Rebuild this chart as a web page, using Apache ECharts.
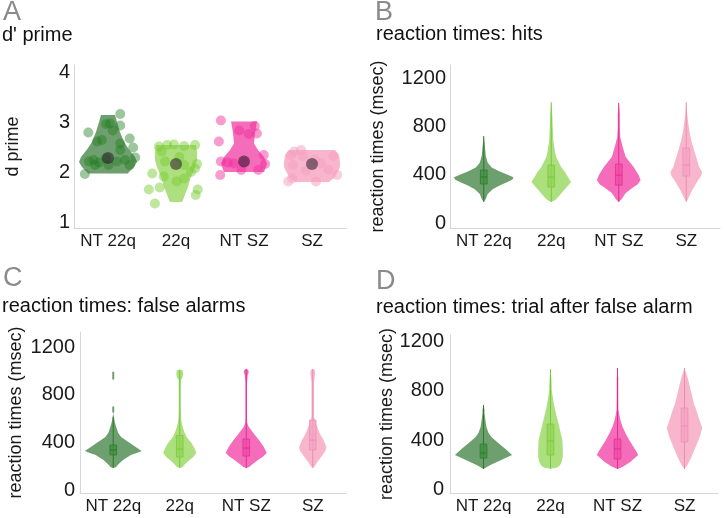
<!DOCTYPE html>
<html><head><meta charset="utf-8">
<script src="https://cdn.jsdelivr.net/npm/echarts@6/dist/echarts.min.js"></script>
<style>html,body{margin:0;padding:0;background:#fff}#c{width:727px;height:518px}</style>
</head><body><div id="c"></div>
<script>
// ---------- DATA ----------
const categories = ['NT 22q', '22q', 'NT SZ', 'SZ'];
const rtTicks = [0, 400, 800, 1200];
const dprimeTicks = [1, 2, 3, 4];

// Panel A: d' prime points [value, jitter (category units)]
const dprimeNT22q = [[3.16,0.18],[2.79,-0.29],[2.96,-0.03],[2.97,0.03],[2.93,0.18],[2.83,0.07],[2.64,-0.09],[2.61,-0.16],[2.67,0.32],[2.57,0.18],[2.44,0.18],[2.49,0.37],[2.27,-0.03],[2.24,-0.21],[2.21,-0.28],[2.19,-0.13],[2.24,0.25],[2.29,0.40],[2.14,0.32],[2.14,0.01],[1.96,-0.34],[2.14,-0.19],[2.21,0.13]];
const dprime22q = [[2.51,-0.25],[2.54,-0.13],[2.55,-0.03],[2.52,0.12],[2.54,0.28],[2.41,-0.21],[2.21,-0.16],[2.14,0.12],[2.07,0.28],[2.16,0.31],[1.97,-0.35],[1.91,-0.18],[1.87,0.12],[1.81,0.01],[1.65,-0.40],[1.69,-0.24],[1.65,0.32],[1.54,0.29],[1.37,-0.31],[2.30,0.05],[2.00,0.22]];
const dprimeNTSZ = [[3.03,-0.34],[2.61,-0.37],[2.83,-0.07],[2.76,0.07],[2.92,0.16],[2.77,0.19],[2.21,-0.34],[2.19,-0.24],[2.34,0.29],[2.16,0.31],[2.04,-0.04],[2.04,0.21],[1.94,-0.35],[2.17,-0.15],[2.20,0.00]];
const dprimeSZ = [[2.41,-0.26],[2.44,-0.16],[2.34,-0.31],[2.31,-0.13],[2.32,0.31],[2.14,-0.28],[2.17,0.13],[2.03,-0.09],[2.05,0.24],[1.94,0.37],[1.81,-0.35],[1.87,-0.29],[1.81,0.06],[2.25,0.05]];
const dprimeMeans = [2.28, 2.16, 2.21, 2.16];

// Violin density profiles: [value, relative density], top to bottom
const dprimeViolins = [
  [[3.14,7],[3.0,9],[2.8,12],[2.6,16],[2.45,21],[2.3,27],[2.2,29],[2.1,26],[2.0,21],[1.97,20]],
  [[2.54,20],[2.4,21],[2.24,21],[2.1,19],[2.0,17],[1.85,14],[1.7,12],[1.55,9],[1.44,7],[1.4,6]],
  [[3.01,13],[2.9,12],[2.78,11],[2.57,10],[2.44,14],[2.3,20],[2.17,23],[2.05,21],[2.0,20]],
  [[2.44,23],[2.34,27],[2.2,28],[2.1,28],[1.9,23],[1.8,17]]
];
const hitsViolins = [
  [[720,0],[650,1],[560,2],[500,4],[460,8],[430,15],[400,24],[380,30],[360,29],[340,24],[310,16],[280,9],[240,4],[200,2],[175,0]],
  [[1000,0],[900,1],[800,1.5],[690,2],[600,3.5],[546,5],[463,10],[420,14],[380,17],[340,20],[310,17],[273,13],[215,7],[190,4],[175,0]],
  [[995,0],[900,1],[800,1],[712,1.5],[662,3],[600,5],[546,7],[463,15],[397,20],[356,22],[320,19],[298,15],[248,7],[200,3],[175,0]],
  [[1000,0],[900,1],[828,2],[750,3.5],[687,5],[600,8],[546,10],[463,13],[422,16],[390,15],[356,12],[300,8],[273,6],[220,3],[175,0]]
];
const falseAlarmViolins = [
  [[995,0],[990,1],[930,1],[925,0],[705,0],[697,1],[655,1],[645,0],[613,0.7],[570,1.5],[529,3],[480,5],[445,8],[394,17],[360,23],[327,29],[310,24],[294,18],[252,10],[215,5],[193,3],[185,0]],
  [[1010,0],[1005,3],[975,3.5],[948,3],[923,1.2],[800,1],[700,1],[600,1.3],[562,2],[529,3],[480,5],[445,7],[394,12],[350,15],[310,17],[280,14],[252,10],[215,5],[193,3],[185,0]],
  [[1015,0],[1010,2],[985,2.5],[965,1.5],[900,0.8],[700,0.8],[600,0.8],[562,1],[530,2.5],[503,5],[460,9],[419,13],[360,18],[310,21],[280,17],[252,12],[215,6],[193,3],[185,0]],
  [[1015,0],[1010,2],[980,2.5],[948,2],[900,1.3],[700,1.3],[613,1.3],[562,3],[520,5],[478,7],[420,11],[361,14],[330,13],[294,10],[260,7],[227,4],[200,2],[185,0]]
];
const afterFAViolins = [
  [[685,0],[650,1],[620,1],[560,2],[507,3],[460,5],[425,8],[376,15],[330,22],[279,29],[260,24],[238,18],[198,7],[180,3],[165,0]],
  [[978,0],[900,1],[808,1.3],[740,2.5],[670,4],[600,6],[539,8],[470,10],[401,12],[330,12.5],[263,12.5],[214,11],[190,9],[175,6],[168,0]],
  [[987,0],[900,0.8],[750,0.8],[645,1],[600,2],[563,3],[510,5],[458,8],[400,12],[360,15],[310,19],[279,21],[250,17],[222,13],[181,5],[165,0]],
  [[987,0],[950,1.5],[913,3],[850,5],[783,7],[700,9.5],[645,12],[570,15],[498,18],[440,16],[376,13],[320,10],[263,7],[198,3],[165,0]]
];
// Boxes: [q1, median, q3]; whiskers: [min, max]
const hitsBoxes = [[323,381,439],[298,380,480],[314,397,488],[389,480,621]];
const hitsWhiskers = [[175,720],[175,1000],[175,995],[175,1000]];
const falseAlarmBoxes = [[294,336,378],[277,344,458],[285,352,428],[336,419,587]];
const falseAlarmWhiskers = [[185,613],[185,1010],[185,1015],[185,1015]];
const afterFABoxes = [[254,295,368],[279,393,531],[246,328,409],[385,515,661]];
const afterFAWhiskers = [[165,685],[168,978],[165,987],[165,987]];

// ---------- STYLE ----------
const FONT = 'Liberation Sans, Arial, sans-serif';
const violinColors = ['#6e9f6e', '#acdf7d', '#f56cbb', '#f8b6cd'];
const boxFill = ['#3f8f3f', '#92d656', '#ef4aa6', '#f4a3c2'];
const boxLine = ['#2b7a2b', '#79c83a', '#e02c92', '#ee8db1'];
const pointColors = ['rgba(35,125,35,0.55)', 'rgba(120,205,50,0.6)', 'rgba(240,45,155,0.6)', 'rgba(245,160,190,0.65)'];
const DENS_REF = 68;

function violinSeries(ax, profiles) {
  return {
    type: 'custom', xAxisIndex: ax, yAxisIndex: ax, silent: true, z: 1,
    encode: { x: 0, y: 1 },
    data: categories.map((c, i) => [i, profiles[i][0][0]]),
    renderItem(params, api) {
      const i = api.value(0);
      const prof = profiles[i];
      const band = api.size([1, 0])[0];
      const cx = api.coord([i, prof[0][0]])[0];
      const right = [], left = [];
      prof.forEach(([v, d]) => {
        const y = api.coord([i, v])[1];
        const h = d / DENS_REF * band;
        right.push([cx + h, y]); left.push([cx - h, y]);
      });
      return { type: 'polygon', shape: { points: right.concat(left.reverse()) }, style: { fill: violinColors[i] } };
    }
  };
}
function boxSeries(ax, boxes, whiskers) {
  return {
    type: 'custom', xAxisIndex: ax, yAxisIndex: ax, silent: true, z: 3,
    encode: { x: 0, y: 1 },
    data: categories.map((c, i) => [i, boxes[i][1]]),
    renderItem(params, api) {
      const i = api.value(0);
      const [q1, med, q3] = boxes[i];
      const band = api.size([1, 0])[0];
      const w = band * 0.1;
      const cx = api.coord([i, med])[0];
      const y1 = api.coord([i, q1])[1], y3 = api.coord([i, q3])[1], ym = api.coord([i, med])[1];
      const wMin = api.coord([i, whiskers[i][0]])[1], wMax = api.coord([i, whiskers[i][1]])[1];
      return { type: 'group', children: [
        { type: 'line', shape: { x1: cx, y1: wMin, x2: cx, y2: wMax }, style: { stroke: boxLine[i], lineWidth: 1 } },
        { type: 'rect', shape: { x: cx - w / 2, y: y3, width: w, height: y1 - y3 }, style: { fill: boxFill[i], stroke: boxLine[i], lineWidth: 1, opacity: 0.75 } },
        { type: 'line', shape: { x1: cx - w / 2, y1: ym, x2: cx + w / 2, y2: ym }, style: { stroke: boxLine[i], lineWidth: 1 } }
      ] };
    }
  };
}

const grids = [
  { left: 74, top: 65, width: 272, height: 163 },
  { left: 450, top: 65, width: 270, height: 163 },
  { left: 80, top: 332, width: 266, height: 161 },
  { left: 450, top: 335, width: 268, height: 158 }
];
const yRanges = [[0.88, 4.14], [-41, 1308], [-25, 1326], [-30, 1255]];
const yNames = ['d prime', 'reaction times (msec)', 'reaction times (msec)', 'reaction times (msec)'];
const nameGaps = [52, 63, 55, 54];
const labelMargins = [4, 4, 5, 6];

const xAxes = grids.map((g, k) => ({
  gridIndex: k, type: 'category', data: categories,
  axisLine: { onZero: false, lineStyle: { color: '#d6d6d6' } }, axisTick: { show: false },
  axisLabel: { interval: 0, fontSize: 17, color: '#1a1a1a', margin: 5, fontFamily: FONT },
  splitLine: { show: false }
}));
// hidden value axis for jittered points in panel A
xAxes.push({ gridIndex: 0, type: 'value', min: -0.5, max: 3.5, show: false, axisLine: { onZero: false } });

const yAxes = grids.map((g, k) => ({
  gridIndex: k, type: 'value', min: yRanges[k][0], max: yRanges[k][1],
  axisLine: { show: true, onZero: false, lineStyle: { color: '#d6d6d6' } }, axisTick: { show: false },
  splitLine: { show: false },
  axisLabel: { customValues: k === 0 ? dprimeTicks : rtTicks, formatter: v => String(v), fontSize: 20, color: '#1a1a1a', margin: labelMargins[k], fontFamily: FONT },
  name: yNames[k], nameLocation: 'middle', nameGap: nameGaps[k],
  nameTextStyle: { fontSize: 18, color: '#1a1a1a', fontFamily: FONT }
}));
yAxes.push({ gridIndex: 0, type: 'value', min: yRanges[0][0], max: yRanges[0][1], show: false, axisLine: { onZero: false } });

const dprimeGroups = [dprimeNT22q, dprime22q, dprimeNTSZ, dprimeSZ];
const pointSeries = dprimeGroups.map((grp, i) => ({
  type: 'scatter', xAxisIndex: 4, yAxisIndex: 4, silent: true, z: 2,
  symbolSize: 10, itemStyle: { color: pointColors[i] },
  data: grp.map(([v, j]) => [i + j, v])
}));
const meanSeries = {
  type: 'scatter', xAxisIndex: 4, yAxisIndex: 4, silent: true, z: 4,
  symbolSize: 12, itemStyle: { color: 'rgba(45,30,45,0.72)' },
  data: dprimeMeans.map((v, i) => [i, v])
};

function txt(x, y, text, size, color) {
  return { type: 'text', x, y, silent: true, style: { text, fontSize: size, fontFamily: FONT, fill: color, align: 'left', verticalAlign: 'middle' } };
}

const option = {
  animation: false,
  backgroundColor: '#fff',
  textStyle: { fontFamily: FONT },
  grid: grids,
  xAxis: xAxes,
  yAxis: yAxes,
  graphic: [
    txt(3, 13, 'A', 27, '#8a8a8a'),
    txt(2, 35, "d' prime", 20, '#111'),
    txt(375, 13, 'B', 27, '#8a8a8a'),
    txt(376, 34, 'reaction times: hits', 20, '#111'),
    txt(3, 279, 'C', 27, '#8a8a8a'),
    txt(2, 306, 'reaction times: false alarms', 20, '#111'),
    txt(376, 282, 'D', 27, '#8a8a8a'),
    txt(376, 307, 'reaction times: trial after false alarm', 20, '#111')
  ],
  series: [
    violinSeries(0, dprimeViolins),
    ...pointSeries,
    meanSeries,
    violinSeries(1, hitsViolins), boxSeries(1, hitsBoxes, hitsWhiskers),
    violinSeries(2, falseAlarmViolins), boxSeries(2, falseAlarmBoxes, falseAlarmWhiskers),
    violinSeries(3, afterFAViolins), boxSeries(3, afterFABoxes, afterFAWhiskers)
  ]
};
const chart = echarts.init(document.getElementById('c'));
chart.setOption(option);
</script>
</body></html>
